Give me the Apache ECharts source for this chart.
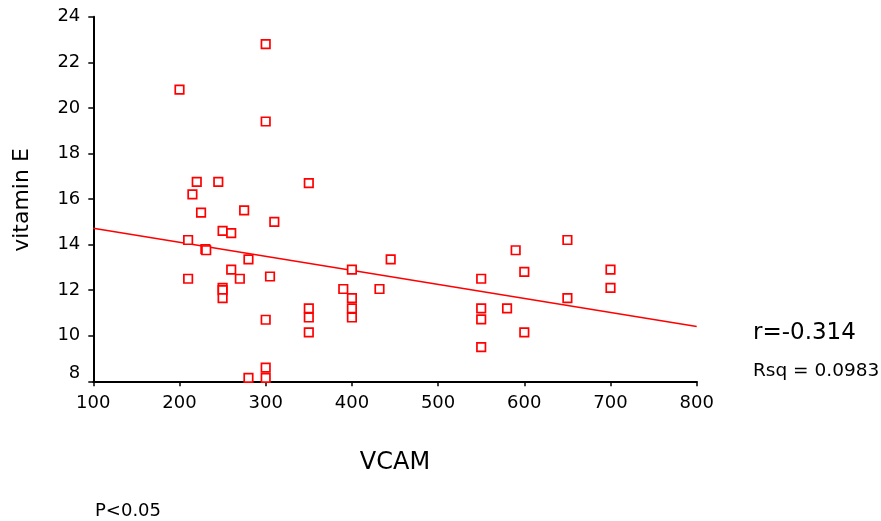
<!DOCTYPE html>
<html>
<head>
<meta charset="utf-8">
<script src="https://cdn.jsdelivr.net/npm/echarts@6/dist/echarts.min.js"></script>
<style>
html,body{margin:0;padding:0;background:#fff;}
#chart{width:881px;height:521px;}
</style>
</head>
<body>
<div id="chart"></div>
<script>
// VCAM (x) values
var vcam = [200, 300, 300, 220, 245, 215, 350, 225, 275, 310,
            250, 260, 210, 230, 231, 280, 260, 210, 270, 305,
            250, 250, 250, 300, 300, 300, 280, 350, 350, 350,
            400, 390, 400, 400, 400, 445, 432, 550, 550, 550,
            550, 590, 650, 600, 700, 700, 650, 580, 600];
// vitamin E (y) values
var vitaminE = [20.8, 22.8, 19.4, 16.75, 16.75, 16.2, 16.7, 15.4, 15.5, 15.0,
                14.6, 14.5, 14.2, 13.8, 13.75, 13.35, 12.9, 12.5, 12.5, 12.6,
                12.1, 12.0, 11.65, 10.7, 8.6, 8.15, 8.15, 11.2, 10.8, 10.15,
                12.9, 12.05, 11.65, 11.2, 10.8, 13.35, 12.05, 12.5, 11.2, 10.72,
                9.5, 13.75, 14.2, 12.8, 12.9, 12.1, 11.65, 11.2, 10.15];
// fitted line end points
var fitX = [100, 800];
var fitY = [14.72, 10.4];
// axis settings / tick labels
var xTicks = [100, 200, 300, 400, 500, 600, 700, 800];
var yTicks = [8, 10, 12, 14, 16, 18, 20, 22, 24];
var statsR = 'r=-0.314';
var statsRsq = 'Rsq = 0.0983';
var pText = 'P<0.05';

var points = vcam.map(function (v, i) { return [v, vitaminE[i]]; });
var fitLine = fitX.map(function (v, i) { return [v, fitY[i]]; });

var FONT = 'DejaVu Sans';
var chart = echarts.init(document.getElementById('chart'), null, {renderer: 'canvas'});
chart.setOption({
  animation: false,
  backgroundColor: '#fff',
  grid: {left: 93.3, right: 184.3, top: 16.7, bottom: 139.7, containLabel: false},
  xAxis: {
    type: 'value', min: xTicks[0], max: xTicks[xTicks.length - 1], interval: 100,
    splitLine: {show: false},
    axisLine: {show: true, onZero: false, lineStyle: {color: '#000', width: 2}},
    axisTick: {show: true, length: 5, lineStyle: {color: '#000', width: 1.5}},
    axisLabel: {color: '#000', fontFamily: FONT, fontSize: 18, margin: 13}
  },
  yAxis: {
    type: 'value', min: yTicks[0], max: yTicks[yTicks.length - 1], interval: 2,
    splitLine: {show: false},
    axisLine: {show: true, onZero: false, lineStyle: {color: '#000', width: 2}},
    axisTick: {show: true, length: 5, lineStyle: {color: '#000', width: 1.5}},
    axisLabel: {
      color: '#000', fontFamily: FONT, fontSize: 18, margin: 13,
      formatter: function (v) { return v === yTicks[0] ? '{low|' + v + '}' : String(v); },
      rich: {low: {color: '#000', fontFamily: FONT, fontSize: 18, padding: [0, 0, 16, 0]}}
    }
  },
  series: [
    {
      type: 'line', data: fitLine, showSymbol: false, symbol: 'none', silent: true, z: 2,
      lineStyle: {color: '#ff0000', width: 1.5}
    },
    {
      type: 'scatter', data: points, symbol: 'rect', symbolSize: 8.5, z: 3,
      itemStyle: {color: '#ffffff', borderColor: '#ff0000', borderWidth: 1.7, opacity: 1}
    }
  ],
  graphic: [
    {type: 'text', left: 753, top: 336 - 14, style: {text: statsR, fontFamily: FONT, fontSize: 23, fill: '#000'}},
    {type: 'text', left: 753, top: 373 - 11, style: {text: statsRsq, fontFamily: FONT, fontSize: 18.5, fill: '#000'}},
    {type: 'text', x: 395, y: 463, style: {text: 'VCAM', fontFamily: FONT, fontSize: 24, fill: '#000', align: 'center', verticalAlign: 'middle'}},
    {type: 'text', x: 22, y: 200, rotation: Math.PI / 2, style: {text: 'vitamin E', fontFamily: FONT, fontSize: 22, fill: '#000', align: 'center', verticalAlign: 'middle'}},
    {type: 'text', left: 95, top: 513 - 11, style: {text: pText, fontFamily: FONT, fontSize: 18, fill: '#000'}}
  ]
});
</script>
</body>
</html>
